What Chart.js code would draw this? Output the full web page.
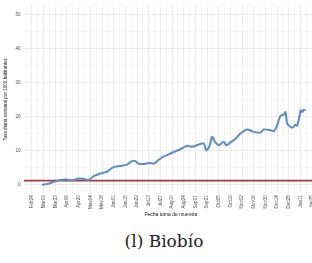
<!DOCTYPE html>
<html>
<head>
<meta charset="utf-8">
<script src="https://cdn.jsdelivr.net/npm/chart.js@4.4.1/dist/chart.umd.min.js"></script>
<style>
  html, body { margin: 0; padding: 0; background: #fff; overflow: hidden; width: 312px; height: 263px; }
  #wrap { position: absolute; left: 0; top: 0; width: 330px; height: 220px; }
  #caption {
    position: absolute; left: 0; top: 231px; width: 328px;
    text-align: center; font-family: 'DejaVu Serif', serif; font-size: 17px; color: #222;
  }
</style>
</head>
<body>
<div id="wrap"><canvas id="chart" width="330" height="220"></canvas></div>
<div id="caption">(l) Biobío</div>

<script>
// ─────────────────────────────────────────────
// Datos (días desde 24-feb-2020)
// ─────────────────────────────────────────────

const dias = [12, 20, 27, 33, 41, 49, 56, 62, 68, 74,
              82, 90, 95, 100, 106, 114, 120, 124, 128, 134,
              140, 146, 152, 156, 162, 170, 178, 186, 192, 200,
              206, 209, 213, 216, 220, 224, 230, 233, 238, 244,
              250, 258, 266, 274, 278, 286, 290, 294, 298, 302,
              304, 306, 308, 312, 316, 318, 321, 322, 324, 326, 328];

const tasa = [0, 0.3, 0.9, 1.3, 1.5, 1.3, 1.8, 1.7, 1.4, 2.5,
              3.3, 3.8, 4.8, 5.3, 5.5, 5.9, 6.9, 6.9, 6.1, 6.1,
              6.4, 6.2, 7.3, 8.0, 8.7, 9.6, 10.4, 11.4, 11.1, 11.8,
              12.1, 10.1, 11.4, 14.0, 12.4, 11.6, 12.6, 11.6, 12.4, 13.5,
              15.0, 16.2, 15.5, 15.3, 16.2, 16.0, 15.7, 17.4, 20.2, 20.6,
              21.3, 17.9, 17.4, 16.7, 17.6, 17.3, 20.4, 21.8, 21.3, 22.0, 21.8];

const umbral = 1.2;

const fechas = ['Feb24', 'Mar09', 'Mar23', 'Apr06', 'Apr20', 'May04', 'May18', 'Jun01',
                'Jun15', 'Jun29', 'Jul13', 'Jul27', 'Aug10', 'Aug24', 'Sep07', 'Sep21',
                'Oct05', 'Oct19', 'Nov02', 'Nov16', 'Nov30', 'Dec14', 'Dec28', 'Jan11', 'Jan25'];

const yTicks = [0, 10, 20, 30, 40, 50];

const xMin = -10, xMax = 343;
const yMin = -2.5, yMax = 52.5;

// ─────────────────────────────────────────────
// Chart
// ─────────────────────────────────────────────

const fontFam = "'Liberation Sans', Arial, sans-serif";

new Chart(document.getElementById('chart'), {
  type: 'line',
  data: {
    datasets: [
      {
        data: dias.map((d, i) => ({ x: d, y: tasa[i] })),
        borderColor: '#5b8cc6',
        borderWidth: 2,
        pointRadius: 0,
        tension: 0.3,
        fill: false,
      },
      {
        data: [{ x: xMin, y: umbral }, { x: xMax, y: umbral }],
        borderColor: '#a33a36',
        borderWidth: 1.8,
        pointRadius: 0,
        fill: false,
      }
    ]
  },
  options: {
    responsive: false,
    animation: false,
    layout: { padding: { top: 4, right: 12, bottom: 2, left: 3 } },
    plugins: { legend: { display: false }, tooltip: { enabled: false } },
    scales: {
      x: {
        type: 'linear',
        min: xMin,
        max: xMax,
        afterBuildTicks: s => {
          const t = [];
          for (let v = -7; v <= xMax; v += 7) t.push({ value: v });
          s.ticks = t;
        },
        ticks: {
          autoSkip: false,
          maxRotation: 90,
          minRotation: 90,
          padding: 2,
          color: '#4d4d4d',
          font: { family: fontFam, size: 4.6 },
          callback: v => (v >= 0 && v % 14 === 0) ? fechas[v / 14] : '',
        },
        grid: { color: ctx => (ctx.tick && ctx.tick.value % 14 === 0) ? '#e4e4e4' : '#f2f2f2', drawTicks: false, lineWidth: 0.8 },
        border: { display: false },
        title: { display: true, text: 'Fecha toma de muestra', color: '#111', font: { family: fontFam, size: 5 }, padding: { top: 1, bottom: 0 } },
      },
      y: {
        min: yMin,
        max: yMax,
        afterBuildTicks: s => {
          const t = [];
          yTicks.forEach((v, i) => {
            t.push({ value: v });
            if (i < yTicks.length - 1) t.push({ value: v + 5 });
          });
          s.ticks = t;
        },
        ticks: {
          padding: 3,
          color: '#4d4d4d',
          font: { family: fontFam, size: 4.6 },
          callback: v => yTicks.includes(v) ? v : '',
        },
        grid: { color: ctx => (ctx.tick && yTicks.includes(ctx.tick.value)) ? '#e4e4e4' : '#f2f2f2', drawTicks: false, lineWidth: 0.8 },
        border: { display: false },
        title: { display: true, text: 'Tasa diaria semanal por 1000 habitantes', color: '#111', font: { family: fontFam, size: 4.6 }, padding: { top: 0, bottom: 4 } },
      }
    }
  }
});
</script>
</body>
</html>
